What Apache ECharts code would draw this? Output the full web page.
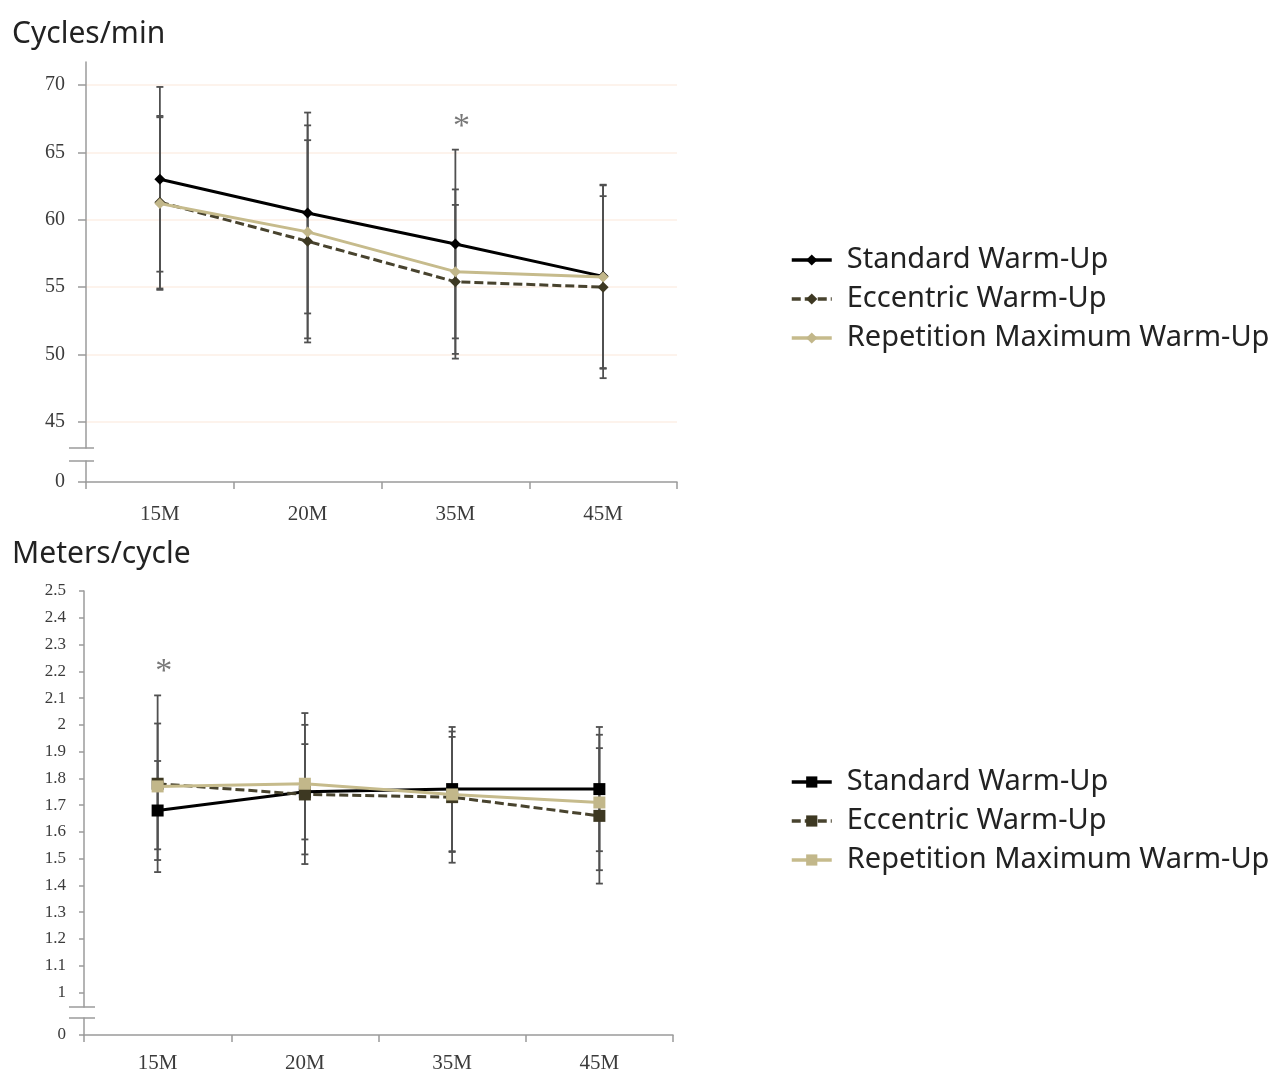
<!DOCTYPE html>
<html>
<head>
<meta charset="utf-8">
<script src="https://cdn.jsdelivr.net/npm/echarts@6/dist/echarts.min.js"></script>
<style>html,body{margin:0;padding:0;background:#fff}#c{width:1287px;height:1075px}</style>
</head>
<body>
<div id="c"></div>
<script>
// ---------- DATA ----------
const categories = ['15M', '20M', '35M', '45M'];
const seriesNames = ['Standard Warm-Up', 'Eccentric Warm-Up', 'Repetition Maximum Warm-Up'];

// Cycles/min (mean, SD)
const cycStd = [63.0, 60.5, 58.2, 55.8];
const cycEcc = [61.3, 58.4, 55.4, 55.0];
const cycRep = [61.2, 59.1, 56.15, 55.75];
const cycStdSd = [6.85, 7.45, 7.0, 6.8];
const cycEccSd = [6.4, 7.5, 5.7, 6.75];
const cycRepSd = [6.4, 7.9, 6.1, 6.8];
const cycTicks = [45, 50, 55, 60, 65, 70];
const cycSig = [['35M', 67.3]];

// Meters/cycle (mean, SD)
const mpcStd = [1.68, 1.75, 1.76, 1.76];
const mpcEcc = [1.78, 1.74, 1.73, 1.66];
const mpcRep = [1.77, 1.78, 1.74, 1.71];
const mpcStdSd = [0.185, 0.178, 0.232, 0.232];
const mpcEccSd = [0.33, 0.26, 0.245, 0.253];
const mpcRepSd = [0.235, 0.264, 0.215, 0.253];
const mpcTicks = [1, 1.1, 1.2, 1.3, 1.4, 1.5, 1.6, 1.7, 1.8, 1.9, 2, 2.1, 2.2, 2.3, 2.4, 2.5];
const mpcSig = [['15M', 2.22]];

const breakTicks = [0];

// ---------- STYLE ----------
const colors = ['#000000', '#48432e', '#c6bb8c'];
const markerColors = ['#000000', '#3d3822', '#c2b78a'];
const lineTypes = ['solid', [9, 4], 'solid'];
const axisColor = '#9b9b9b';
const labelColor = '#3b3b3b';
const serif = '"Liberation Serif", "Times New Roman", serif';
const sans = '"Noto Sans", "Open Sans", sans-serif';

function errData(means, sds) {
  return means.map((m, i) => [i, m - sds[i], m + sds[i]]);
}
function errRender(params, api) {
  const i = api.value(0);
  const pLo = api.coord([i, api.value(1)]);
  const pHi = api.coord([i, api.value(2)]);
  const hw = 3.5;
  const st = { stroke: '#505050', lineWidth: 1.8 };
  return {
    type: 'group',
    children: [
      { type: 'line', shape: { x1: pLo[0], y1: pLo[1], x2: pHi[0], y2: pHi[1] }, style: st },
      { type: 'line', shape: { x1: pLo[0] - hw, y1: pLo[1], x2: pLo[0] + hw, y2: pLo[1] }, style: st },
      { type: 'line', shape: { x1: pHi[0] - hw, y1: pHi[1], x2: pHi[0] + hw, y2: pHi[1] }, style: st }
    ]
  };
}

function buildChart(k, means, sds, sig, symbol, symSize, suffix) {
  const xi = k * 2, yi = k * 2;
  const out = [];
  means.forEach((m, s) => {
    out.push({
      type: 'custom', name: seriesNames[s] + suffix + '_err',
      xAxisIndex: xi, yAxisIndex: yi, z: 1, silent: true,
      renderItem: errRender, data: errData(m, sds[s]), encode: { x: 0, y: [1, 2] }
    });
  });
  means.forEach((m, s) => {
    out.push({
      type: 'line', name: seriesNames[s] + suffix,
      xAxisIndex: xi, yAxisIndex: yi, z: 3 + s,
      data: m, symbol: symbol, symbolSize: symSize, showSymbol: true,
      lineStyle: { color: colors[s], width: 3, type: lineTypes[s] },
      itemStyle: { color: markerColors[s], borderWidth: 0 },
      emphasis: { disabled: true }, animation: false
    });
  });
  out.push({
    type: 'scatter', name: 'sig' + k, xAxisIndex: xi, yAxisIndex: yi, z: 6,
    data: sig, symbolSize: 1, itemStyle: { color: 'rgba(0,0,0,0)' }, silent: true,
    label: { show: true, position: 'inside', formatter: '*', fontFamily: serif, fontSize: 34, color: '#555555', offset: [6, 6] }
  });
  return out;
}

const series = []
  .concat(buildChart(0, [cycStd, cycEcc, cycRep], [cycStdSd, cycEccSd, cycRepSd], cycSig, 'diamond', 11, ''))
  .concat(buildChart(1, [mpcStd, mpcEcc, mpcRep], [mpcStdSd, mpcEccSd, mpcRepSd], mpcSig, 'rect', 12, '#b'));

const grids = [
  { left: 86, top: 62, width: 591, height: 386 },
  { left: 86, top: 461, width: 591, height: 21 },
  { left: 84, top: 591, width: 589, height: 416 },
  { left: 84, top: 1018, width: 589, height: 17 }
];

function xAxisMain(gi) {
  return { type: 'category', gridIndex: gi, data: categories, show: false, boundaryGap: true };
}
function xAxisShown(gi, margin) {
  return {
    type: 'category', gridIndex: gi, data: categories, boundaryGap: true,
    axisLine: { lineStyle: { color: axisColor, width: 1.5 } },
    axisTick: { show: true, length: 7, lineStyle: { color: axisColor, width: 1.5 } },
    axisLabel: { fontFamily: serif, fontSize: 21, color: labelColor, margin: margin },
    splitLine: { show: false }
  };
}
function yAxisDef(gi, min, max, ticks, fs, tickLen, margin, gridColor) {
  return {
    type: 'value', gridIndex: gi, min: min, max: max,
    axisLine: { show: true, lineStyle: { color: axisColor, width: 1.5 } },
    axisTick: { show: true, length: tickLen, customValues: ticks, lineStyle: { color: axisColor, width: 1.5 } },
    axisLabel: { customValues: ticks, fontFamily: serif, fontSize: fs, color: labelColor, margin: margin },
    splitLine: gridColor ? { show: true, lineStyle: { color: gridColor, width: 1.5 } } : { show: false }
  };
}

const legendBase = {
  orient: 'vertical', left: 790, padding: 0, itemWidth: 40, itemHeight: 14, itemGap: 9,
  textStyle: { fontFamily: sans, fontSize: 29, color: '#222', lineHeight: 30, padding: [0, 0, 0, 10] },
  lineStyle: { width: 3.5 },
  selectedMode: false
};

const option = {
  animation: false,
  backgroundColor: '#ffffff',
  title: [
    { text: 'Cycles/min', left: 12, top: 17, padding: 0, textStyle: { fontFamily: sans, fontSize: 30, fontWeight: 'normal', color: '#222', lineHeight: 34 } },
    { text: 'Meters/cycle', left: 12, top: 537, padding: 0, textStyle: { fontFamily: sans, fontSize: 30, fontWeight: 'normal', color: '#222', lineHeight: 34 } }
  ],
  legend: [
    Object.assign({}, legendBase, { top: 245, data: seriesNames }),
    Object.assign({}, legendBase, { top: 767, data: seriesNames.map(n => n + '#b'), formatter: n => n.split('#')[0] })
  ],
  grid: grids,
  xAxis: [xAxisMain(0), xAxisShown(1, 22), xAxisMain(2), xAxisShown(3, 18)],
  yAxis: [
    yAxisDef(0, 43.07, 71.7, cycTicks, 20, 8, 21, '#fcefe6'),
    yAxisDef(1, 0, 1, breakTicks, 20, 8, 21, null),
    yAxisDef(2, 0.946, 2.5, mpcTicks, 17, 5, 18, null),
    yAxisDef(3, 0, 1, breakTicks, 17, 5, 18, null)
  ],
  series: series,
  graphic: [
    { type: 'line', shape: { x1: 69, y1: 448, x2: 94, y2: 448 }, style: { stroke: axisColor, lineWidth: 1.5 } },
    { type: 'line', shape: { x1: 69, y1: 461, x2: 94, y2: 461 }, style: { stroke: axisColor, lineWidth: 1.5 } },
    { type: 'line', shape: { x1: 69, y1: 1007, x2: 95, y2: 1007 }, style: { stroke: axisColor, lineWidth: 1.5 } },
    { type: 'line', shape: { x1: 69, y1: 1018, x2: 95, y2: 1018 }, style: { stroke: axisColor, lineWidth: 1.5 } }
  ]
};

const chart = echarts.init(document.getElementById('c'), null, { renderer: 'canvas' });
chart.setOption(option);
</script>
</body>
</html>
